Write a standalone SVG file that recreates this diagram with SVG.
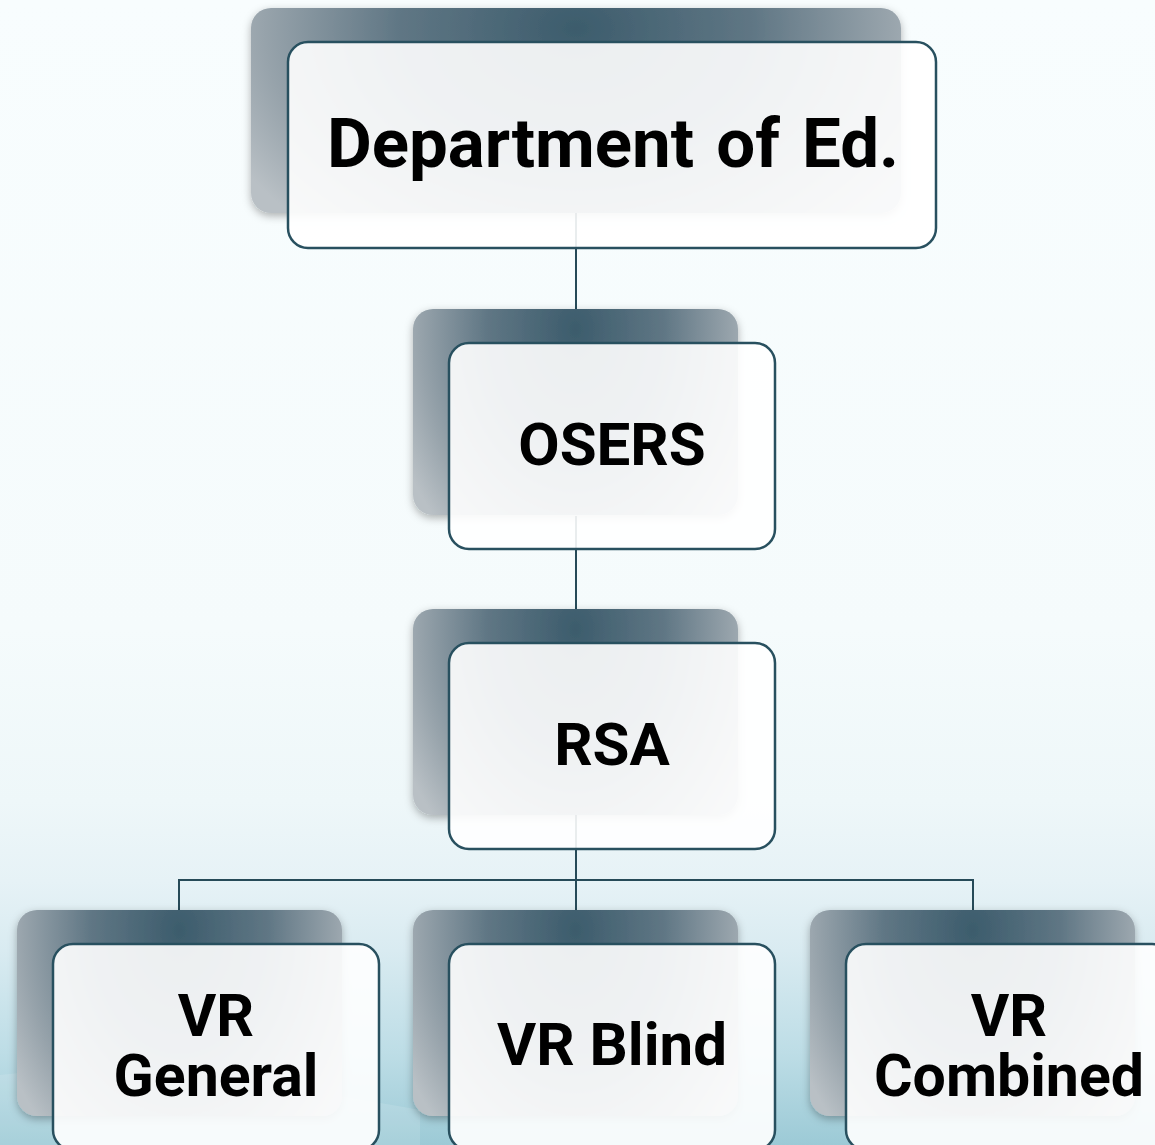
<svg xmlns="http://www.w3.org/2000/svg" width="1155" height="1145" viewBox="0 0 1155 1145">
  <defs>
    <linearGradient id="bg" x1="0" y1="0" x2="0" y2="1">
      <stop offset="0" stop-color="#f8fdfe"/>
      <stop offset="0.55" stop-color="#f5fbfc"/>
      <stop offset="0.7" stop-color="#eef7f9"/>
      <stop offset="0.77" stop-color="#e6f2f6"/>
      <stop offset="0.83" stop-color="#d9ebf1"/>
      <stop offset="0.92" stop-color="#bddde6"/>
      <stop offset="1" stop-color="#9ccad6"/>
    </linearGradient>
    <radialGradient id="shade" cx="0.5" cy="0.1" r="0.6" fx="0.5" fy="0.1" gradientTransform="translate(0.5 0.1) scale(1 2.2) translate(-0.5 -0.1)">
      <stop offset="0" stop-color="#3c5c6c"/>
      <stop offset="0.45" stop-color="#5f7684"/>
      <stop offset="0.8" stop-color="#97a3ab"/>
      <stop offset="1" stop-color="#b9c0c5"/>
    </radialGradient>
    <filter id="soft" x="-10%" y="-10%" width="120%" height="125%">
      <feDropShadow dx="0" dy="3" stdDeviation="4" flood-color="#000" flood-opacity="0.3"/>
    </filter>
  </defs>
  <style>
    .shadow { fill: url(#shade); filter: url(#soft); }
    .box { fill: #ffffff; fill-opacity: 0.9; stroke: #28505f; stroke-width: 2.5; }
    .link { fill: none; stroke: #264a58; stroke-width: 2; }
    .lbl { font-family: Roboto, "Liberation Sans", Arial, sans-serif; font-weight: bold; fill: #000; text-anchor: middle; }
  </style>

  <rect x="0" y="0" width="1155" height="1145" fill="url(#bg)"/>
  <path d="M0,1075 C120,1060 250,1080 420,1110 L420,1145 L0,1145 Z" fill="#ffffff" fill-opacity="0.12"/>

  <g id="connectors">
    <path class="link" d="M576,213 V309"/>
    <path class="link" d="M576,516 V609"/>
    <path class="link" d="M576,815 V910"/>
    <path class="link" d="M179,910 V880 H973 V910"/>
  </g>

  <g id="node-dept">
    <rect class="shadow" x="251" y="8" width="650" height="205" rx="20"/>
    <rect class="box" x="288" y="42" width="648" height="206" rx="20"/>
    <text class="lbl" x="613" y="167" font-size="69" word-spacing="5">Department of Ed.</text>
  </g>

  <g id="node-osers">
    <rect class="shadow" x="413" y="309" width="325" height="206" rx="20"/>
    <rect class="box" x="449" y="343" width="326" height="206" rx="20"/>
    <text class="lbl" x="612" y="465" font-size="60">OSERS</text>
  </g>

  <g id="node-rsa">
    <rect class="shadow" x="413" y="609" width="325" height="206" rx="20"/>
    <rect class="box" x="449" y="643" width="326" height="206" rx="20"/>
    <text class="lbl" x="612" y="765" font-size="60">RSA</text>
  </g>

  <g id="node-vr-general">
    <rect class="shadow" x="17" y="910" width="325" height="206" rx="20"/>
    <rect class="box" x="53" y="944" width="326" height="206" rx="20"/>
    <text class="lbl" font-size="59"><tspan x="216" y="1036">VR</tspan><tspan x="216" y="1096">General</tspan></text>
  </g>

  <g id="node-vr-blind">
    <rect class="shadow" x="413" y="910" width="325" height="206" rx="20"/>
    <rect class="box" x="449" y="944" width="326" height="206" rx="20"/>
    <text class="lbl" x="612" y="1065" font-size="60">VR Blind</text>
  </g>

  <g id="node-vr-combined">
    <rect class="shadow" x="810" y="910" width="325" height="206" rx="20"/>
    <rect class="box" x="846" y="944" width="326" height="206" rx="20"/>
    <text class="lbl" font-size="59"><tspan x="1009" y="1036">VR</tspan><tspan x="1009" y="1096">Combined</tspan></text>
  </g>
</svg>
